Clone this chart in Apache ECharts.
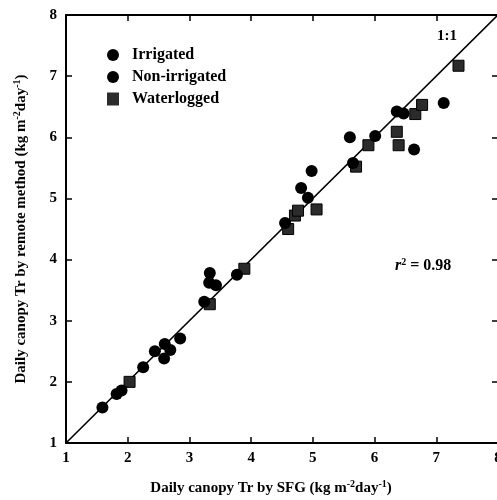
<!DOCTYPE html>
<html>
<head>
<meta charset="utf-8">
<script src="https://cdn.jsdelivr.net/npm/echarts@6/dist/echarts.min.js"></script>
<style>html,body{margin:0;padding:0;background:#fff;}#c{width:497px;height:500px;}</style>
</head>
<body>
<div id="c"></div>
<script>
var tickValues = [1, 2, 3, 4, 5, 6, 7, 8];
var irrigated = [[1.59,1.58],[1.82,1.80],[2.25,2.24],[2.44,2.50],[2.60,2.62],[2.85,2.71],[3.24,3.31],[3.33,3.78],[3.77,3.75],[4.55,4.60],[4.92,5.01],[5.60,6.00],[6.01,6.02],[6.36,6.42]];
var nonIrrigated = [[1.90,1.86],[2.69,2.52],[2.59,2.38],[3.32,3.62],[3.43,3.58],[4.81,5.17],[4.98,5.45],[5.65,5.58],[6.47,6.39],[6.64,5.80],[7.12,6.56]];
var waterlogged = [[2.03,2.00],[3.33,3.27],[3.89,3.85],[4.60,4.50],[4.71,4.72],[4.76,4.80],[5.06,4.82],[5.70,5.52],[5.90,5.87],[6.36,6.09],[6.39,5.87],[6.66,6.38],[6.77,6.53],[7.36,7.17]];
var oneToOne = [[1,1],[8,8]];
var seriesNames = ['Irrigated', 'Non-irrigated', 'Waterlogged'];

var F = 'Liberation Serif';
var chart = echarts.init(document.getElementById('c'), null, {renderer: 'canvas'});
var axisCommon = {
  type: 'value', min: 1, max: 8, interval: 1,
  splitLine: {show: false},
  axisLine: {show: true, onZero: false, lineStyle: {color: '#000', width: 2}},
  axisTick: {show: true, inside: true, length: 6, lineStyle: {color: '#000', width: 1.5}}
};
var labelStyle = {color: '#000', fontFamily: F, fontWeight: 'bold', fontSize: 15};
var nameRich = {
  sup: {fontFamily: F, fontWeight: 'bold', fontSize: 10, verticalAlign: 'top', padding: [0,0,8,0], color: '#000'}
};
chart.setOption({
  animation: false,
  backgroundColor: '#fff',
  grid: {left: 66, right: -1, top: 15, bottom: 57, outerBoundsMode: 'none', containLabel: false},
  legend: {
    orient: 'vertical', left: 102, top: 42, itemGap: 6, itemWidth: 12, itemHeight: 13,
    data: [
      {name: seriesNames[0], icon: 'circle'},
      {name: seriesNames[1], icon: 'circle'},
      {name: seriesNames[2], icon: 'rect', itemStyle: {borderWidth: 0}}
    ],
    textStyle: {color: '#000', fontFamily: F, fontWeight: 'bold', fontSize: 16, letterSpacing: 1.5, padding: [0,0,0,8]}
  },
  xAxis: [
    Object.assign({}, axisCommon, {
      position: 'bottom',
      axisLabel: Object.assign({margin: 8}, labelStyle),
      name: 'Daily canopy Tr by SFG (kg m{sup|-2}day{sup|-1})',
      nameLocation: 'middle', nameGap: 36,
      nameTextStyle: {color: '#000', fontFamily: F, fontWeight: 'bold', fontSize: 15, letterSpacing: 1, padding: [0,22,0,0], rich: nameRich}
    }),
    Object.assign({}, axisCommon, {position: 'top', axisLabel: {show: false}})
  ],
  yAxis: [
    Object.assign({}, axisCommon, {
      position: 'left',
      axisLabel: Object.assign({margin: 9}, labelStyle),
      name: 'Daily canopy Tr by remote method (kg m{sup|-2}day{sup|-1})',
      nameLocation: 'middle', nameGap: 36,
      nameTextStyle: {color: '#000', fontFamily: F, fontWeight: 'bold', fontSize: 15, letterSpacing: 1, rich: nameRich}
    }),
    Object.assign({}, axisCommon, {position: 'right', axisLabel: {show: false}})
  ],
  series: [
    {
      name: '1:1', type: 'line', data: oneToOne, symbol: 'none',
      lineStyle: {color: '#000', width: 1.6}, z: 1
    },
    {
      name: seriesNames[0], type: 'scatter', data: irrigated, symbol: 'circle', symbolSize: 12,
      itemStyle: {color: '#000', opacity: 1}, z: 3
    },
    {
      name: seriesNames[1], type: 'scatter', data: nonIrrigated, symbol: 'circle', symbolSize: 12,
      itemStyle: {color: '#000', opacity: 1}, z: 3
    },
    {
      name: seriesNames[2], type: 'scatter', data: waterlogged, symbol: 'rect', symbolSize: 11,
      itemStyle: {color: '#2b2b2b', borderColor: '#000', borderWidth: 1, opacity: 1}, z: 2
    }
  ],
  graphic: [
    {type: 'text', left: 437, top: 29, style: {text: '1:1', fill: '#000', font: 'bold 15px "Liberation Serif"', letterSpacing: 1}},
    {type: 'text', left: 395, top: 257, style: {
      text: '{i|r}{s|2}{n| = 0.98}',
      rich: {
        i: {fontFamily: F, fontWeight: 'bold', fontStyle: 'italic', fontSize: 16, fill: '#000'},
        s: {fontFamily: F, fontWeight: 'bold', fontSize: 10, verticalAlign: 'top', padding: [0,0,8,0], fill: '#000'},
        n: {fontFamily: F, fontWeight: 'bold', fontSize: 16, letterSpacing: 2, fill: '#000'}
      }
    }}
  ]
});
</script>
</body>
</html>
